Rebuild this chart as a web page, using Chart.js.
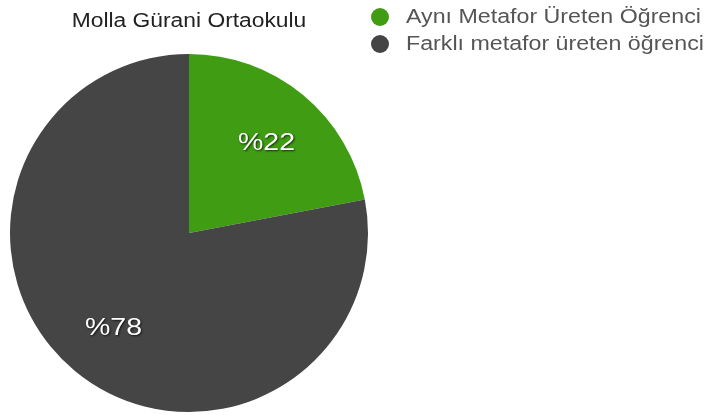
<!DOCTYPE html>
<html>
<head>
<meta charset="utf-8">
<script src="https://cdn.jsdelivr.net/npm/chart.js@4"></script>
<style>
  html, body { margin: 0; padding: 0; background: #fff; }
  #wrap { width: 706px; height: 415px; }
</style>
</head>
<body>
<div id="wrap"><canvas id="pieChart" width="706" height="415"></canvas></div>
<script>
const title = 'Molla Gürani Ortaokulu';
const categories = ['Aynı Metafor Üreten Öğrenci', 'Farklı metafor üreten öğrenci'];
const percents = [22, 78];
const colors = ['#3f9c13', '#454545'];

const FONT = '"Liberation Sans", Arial, sans-serif';

// text a bit wider than Liberation Sans, like the original's font
function wideText(ctx, text, x, y, stretch) {
    ctx.save();
    ctx.translate(x, y);
    ctx.scale(stretch, 1);
    ctx.fillText(text, 0, 0);
    ctx.restore();
}

// title, legend and slice labels drawn by hand
const decor = {
    id: 'decor',
    afterDraw(chart) {
        const ctx = chart.ctx;
        const area = chart.chartArea;
        ctx.save();

        // title above the pie
        ctx.fillStyle = '#222';
        ctx.font = '19.5px ' + FONT;
        ctx.textAlign = 'center';
        ctx.textBaseline = 'middle';
        wideText(ctx, title, (area.left + area.right) / 2, 22, 1.17);

        // legend
        ctx.textAlign = 'left';
        categories.forEach((name, i) => {
            const y = 17 + i * 27;
            ctx.beginPath();
            ctx.arc(380, y, 9, 0, Math.PI * 2);
            ctx.fillStyle = colors[i];
            ctx.fill();
            ctx.fillStyle = '#555';
            wideText(ctx, name, 406, y + 1, 1.19);
        });

        // percent labels inside slices
        const meta = chart.getDatasetMeta(0);
        ctx.font = '23px ' + FONT;
        ctx.textAlign = 'center';
        meta.data.forEach((arc, i) => {
            const mid = (arc.startAngle + arc.endAngle) / 2;
            const r = arc.outerRadius * 0.67;
            const x = arc.x + Math.cos(mid) * r;
            const y = arc.y + Math.sin(mid) * r;
            ctx.shadowColor = 'rgba(0,0,0,0.7)';
            ctx.shadowBlur = 2;
            ctx.shadowOffsetX = 1;
            ctx.shadowOffsetY = 1;
            ctx.fillStyle = '#fff';
            wideText(ctx, '%' + percents[i], x + 1, y + 3, 1.24);
        });
        ctx.restore();
    }
};

new Chart(document.getElementById('pieChart'), {
    type: 'pie',
    data: {
        labels: categories,
        datasets: [{
            data: percents,
            backgroundColor: colors,
            borderWidth: 0
        }]
    },
    options: {
        responsive: false,
        animation: false,
        layout: { padding: { left: 10, right: 338, top: 54, bottom: 3 } },
        plugins: {
            legend: { display: false },
            title: { display: false },
            tooltip: { enabled: false }
        }
    },
    plugins: [decor]
});
</script>
</body>
</html>
